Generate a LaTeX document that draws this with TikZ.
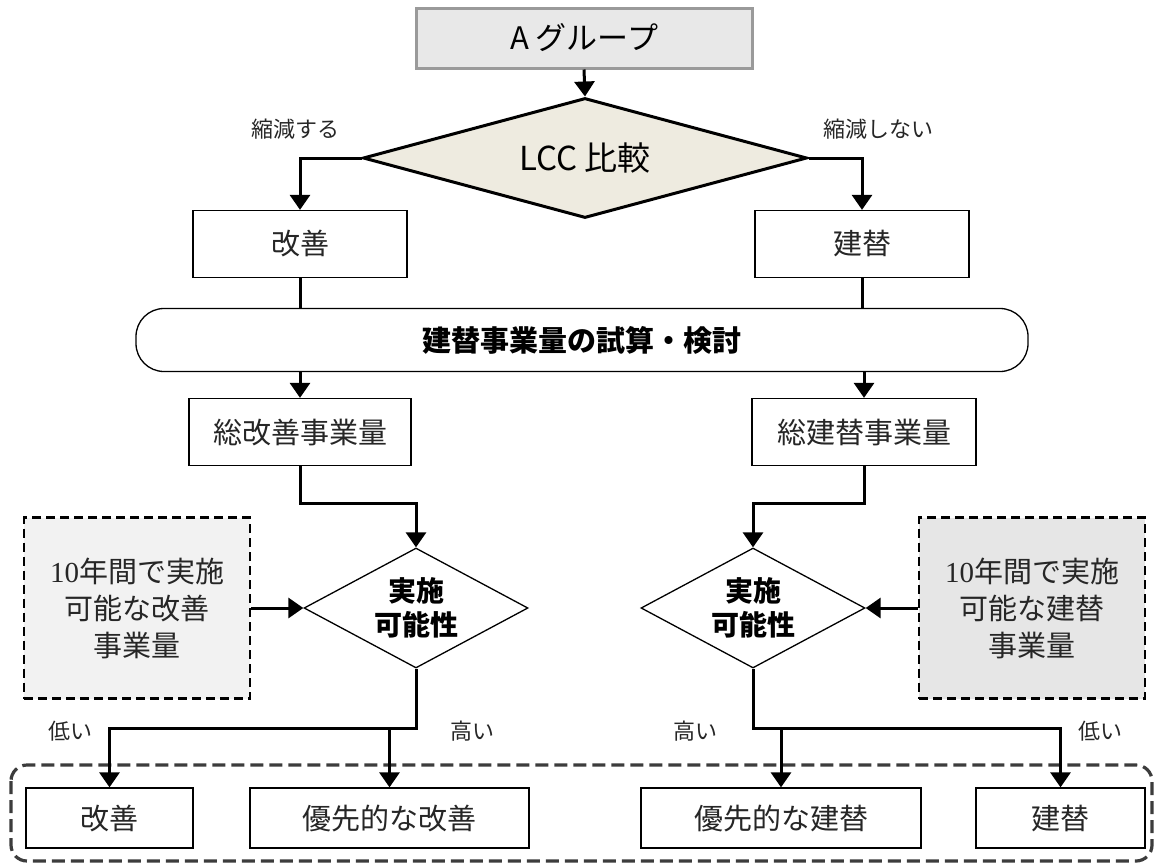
\documentclass[tikz,border=0pt]{standalone}
\usepackage{fontspec}
\setmainfont{Noto Sans CJK JP}
\newfontfamily\latserif{Liberation Serif}
\usetikzlibrary{arrows.meta,shapes.geometric,positioning}
\definecolor{agray}{HTML}{E8E8E8}
\definecolor{aborder}{HTML}{9A9A9A}
\definecolor{beige}{HTML}{EEEBE0}
\definecolor{lgray}{HTML}{F2F2F2}
\definecolor{mgray}{HTML}{E6E6E6}
\definecolor{dgray}{HTML}{3C3C3C}
\tikzset{
  box/.style={draw=black,line width=1.3pt,rectangle,inner sep=0pt,fill=white,font=\fontsize{29}{34}\selectfont,text=black!85},
  dbox/.style={draw=black,line width=2.6pt,dash pattern=on 9pt off 5pt,rectangle,inner sep=0pt,align=center,font=\fontsize{29}{37}\selectfont,text=black!85},
  smalldia/.style={draw=black,line width=1.3pt,diamond,shape aspect=1.87,inner sep=0pt,fill=white,align=center,font=\fontsize{28}{34}\selectfont\bfseries},
  conn/.style={draw=black,line width=3pt},
  arr/.style={conn,-{Triangle[width=20pt,length=15pt]}},
  lbl/.style={font=\fontsize{22}{26}\selectfont,text=black!85},
}
\begin{document}
\begin{tikzpicture}[x=1pt,y=-1pt]
\path[use as bounding box] (0,0) rectangle (1155,865);
% bottom dashed group
\draw[draw=dgray,line width=3.2pt,dash pattern=on 13pt off 6pt,rounded corners=16pt] (11,765) rectangle (1152,861);
% top
\node[rectangle,draw=aborder,fill=agray,line width=3pt,minimum width=336pt,minimum height=60pt,inner sep=0pt,font=\fontsize{31}{34}\selectfont] (A) at (584,38) {A グループ};
\node[diamond,shape aspect=3.7,draw=black,fill=beige,line width=3pt,minimum width=444pt,minimum height=120pt,inner sep=0pt,font=\fontsize{33}{36}\selectfont] (lcc) at (585,158) {LCC 比較};
\node[lbl] (l1) at (295,129) {縮減する};
\node[lbl] (l2) at (878,129) {縮減しない};
\node[box,minimum width=214pt,minimum height=67pt] (k1) at (300,244) {改善};
\node[box,minimum width=214pt,minimum height=67pt] (t1) at (862,244) {建替};
\node[draw=black,line width=1.3pt,rounded corners=28pt,minimum width=892pt,minimum height=63pt,inner sep=0pt,font=\fontsize{29}{34}\selectfont\bfseries] (plan) at (582,340) {建替事業量の試算・検討};
\node[box,minimum width=222pt,minimum height=67pt] (k2) at (300,432) {総改善事業量};
\node[box,minimum width=224pt,minimum height=67pt] (t2) at (864,432) {総建替事業量};
\node[smalldia,minimum width=224pt,minimum height=120pt] (d1) at (416,608) {実施\\可能性};
\node[smalldia,minimum width=224pt,minimum height=120pt] (d2) at (753,608) {実施\\可能性};
\node[dbox,fill=lgray,minimum width=226pt,minimum height=181pt] (c1) at (137,608) {{\latserif 10}年間で実施\\可能な改善\\事業量};
\node[dbox,fill=mgray,minimum width=226pt,minimum height=181pt] (c2) at (1032,608) {{\latserif 10}年間で実施\\可能な建替\\事業量};
\node[box,minimum width=167pt,minimum height=60pt] (b1) at (109.5,818) {改善};
\node[box,minimum width=279pt,minimum height=60pt] (b2) at (389.5,818) {優先的な改善};
\node[box,minimum width=280pt,minimum height=60pt] (b3) at (781,818) {優先的な建替};
\node[box,minimum width=169pt,minimum height=60pt] (b4) at (1060.5,818) {建替};
\node[lbl] (l3) at (70,731) {低い};
\node[lbl] (l4) at (472,731) {高い};
\node[lbl] (l5) at (695,731) {高い};
\node[lbl] (l6) at (1100,731) {低い};
% connectors
\draw[arr] (A.south) -- (lcc.north);
\draw[arr] (lcc.west) -| (k1.north);
\draw[arr] (lcc.east) -| (t1.north);
\draw[conn] (k1.south) -- (k1.south |- plan.north);
\draw[conn] (t1.south) -- (t1.south |- plan.north);
\draw[arr] (k2.north |- plan.south) -- (k2.north);
\draw[arr] (t2.north |- plan.south) -- (t2.north);
\coordinate (m1) at (300,503);
\coordinate (m2) at (864,503);
\draw[arr] (k2.south) -- (m1) -| (d1.north);
\draw[arr] (t2.south) -- (m2) -| (d2.north);
\draw[arr] (c1.east) -- (d1.west);
\draw[arr] (c2.west) -- (d2.east);
\coordinate (j1) at (416,728);
\coordinate (j2) at (753,728);
\draw[arr] (d1.south) -- (j1) -| (b1.north);
\draw[arr] (b2.north |- j1) -- (b2.north);
\draw[arr] (d2.south) -- (j2) -| (b4.north);
\draw[arr] (b3.north |- j2) -- (b3.north);
\end{tikzpicture}
\end{document}
